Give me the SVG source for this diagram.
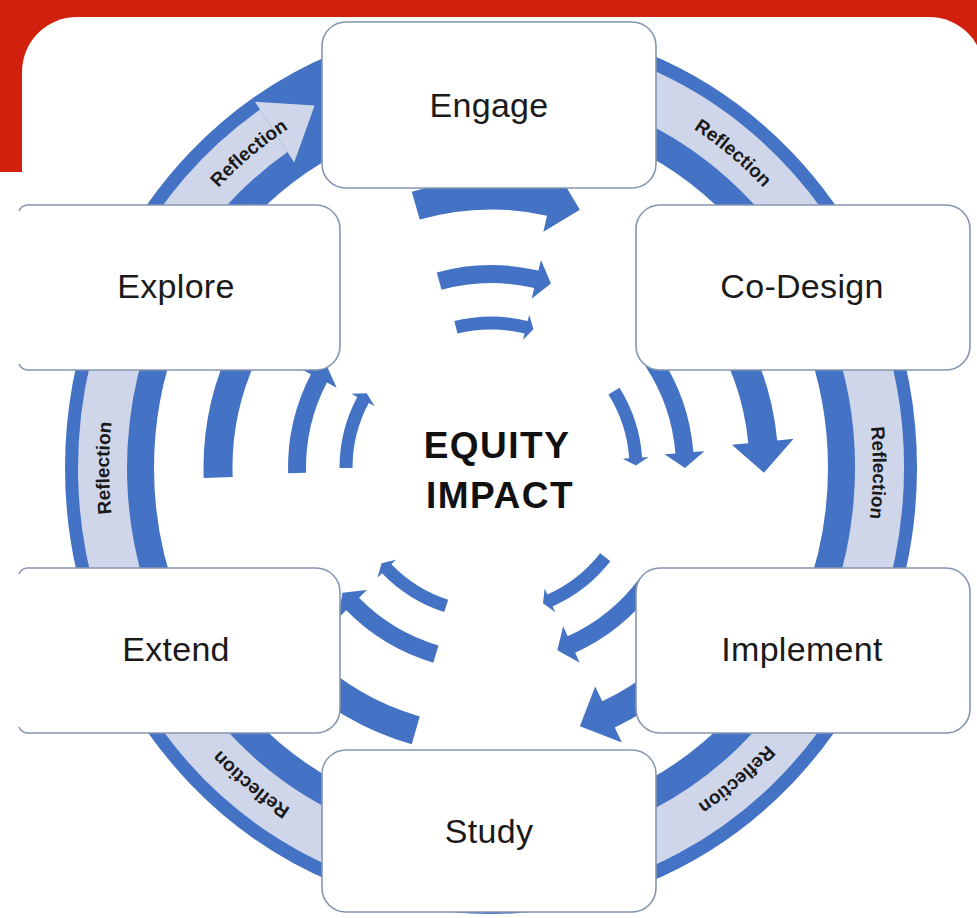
<svg xmlns="http://www.w3.org/2000/svg" width="977" height="918" viewBox="0 0 977 918">
<style>
.box{fill:#ffffff;stroke:#8595B0;stroke-width:1.6}
.boxfill{fill:#ffffff;stroke:none}
.boxline{fill:none;stroke:#8595B0;stroke-width:1.6}
.lbl{font-family:"Liberation Sans",Arial,sans-serif;font-size:34px;fill:#1a1a1a;text-anchor:middle;letter-spacing:0.3px}
.ctr{font-family:"Liberation Sans",Arial,sans-serif;font-size:37px;font-weight:bold;fill:#111111;text-anchor:middle;letter-spacing:1.5px}
.refl{font-family:"Liberation Sans",Arial,sans-serif;font-size:19px;font-weight:bold;fill:#1a1a1a}
</style>
<defs>
<path id="rp" d="M 491 68 A 382 400 0 0 1 491 868 A 382 400 0 0 1 491 68"/>
<g id="arrow-set">
<path d="M -79.25 -276.36 A 287.5 287.5 0 0 1 62.23 -280.69 L 65.80 -296.80 L 88.88 -258.13 L 52.38 -236.26 L 55.95 -252.37 A 258.5 258.5 0 0 0 -71.25 -248.49 Z"/>
<path d="M -54.25 -195.62 A 203 203 0 0 1 47.39 -197.39 L 49.96 -208.09 L 59.95 -184.51 L 40.62 -169.19 L 43.19 -179.89 A 185 185 0 0 0 -49.44 -178.27 Z"/>
<path d="M -36.65 -147.00 A 151.5 151.5 0 0 1 36.65 -147.00 L 38.22 -153.31 L 42.39 -138.66 L 31.93 -128.08 L 33.51 -134.39 A 138.5 138.5 0 0 0 -33.51 -134.39 Z"/>
</g>
</defs>
<g id="background">
<rect x="0" y="0" width="977" height="918" fill="#ffffff"/>
<rect x="0" y="0" width="977" height="172" fill="#D2200E"/>
<rect x="22" y="17" width="962" height="1000" rx="55" fill="#ffffff"/>
<rect x="0" y="172" width="40" height="746" fill="#ffffff"/>
</g>
<g id="reflection-ring">
<g transform="translate(491,468) scale(1,1.047)">
<circle r="381.5" fill="none" stroke="#4472C4" stroke-width="89"/>
<path d="M -132.88 -365.07 A 388.5 388.5 0 1 1 -217.25 -322.08" fill="none" stroke="#CFD6EA" stroke-width="49"/>
<polygon points="-235.98,-349.85 -176.38,-346.16 -196.83,-291.82" fill="#CFD6EA"/>
</g>
<text class="refl"><textPath href="#rp" startOffset="89.4%" text-anchor="middle">Reflection</textPath></text>
<text class="refl"><textPath href="#rp" startOffset="10.6%" text-anchor="middle">Reflection</textPath></text>
<text class="refl"><textPath href="#rp" startOffset="25.2%" text-anchor="middle">Reflection</textPath></text>
<text class="refl"><textPath href="#rp" startOffset="39.2%" text-anchor="middle">Reflection</textPath></text>
<text class="refl"><textPath href="#rp" startOffset="60.5%" text-anchor="middle">Reflection</textPath></text>
<text class="refl"><textPath href="#rp" startOffset="75%" text-anchor="middle">Reflection</textPath></text>
</g>
<g id="connectors" fill="#4472C4">
<use href="#arrow-set" transform="translate(491,468) rotate(0)"/>
<use href="#arrow-set" transform="translate(491,468) rotate(72)"/>
<use href="#arrow-set" transform="translate(491,468) rotate(142)"/>
<use href="#arrow-set" transform="translate(491,468) rotate(212)"/>
<use href="#arrow-set" transform="translate(491,468) rotate(284)"/>
</g>
<g id="node-engage">
<rect class="box" x="322" y="22" width="334" height="166" rx="24"/>
<text class="lbl" x="489" y="117">Engage</text>
</g>
<g id="node-codesign">
<rect class="box" x="636" y="205" width="334" height="165" rx="24"/>
<text class="lbl" x="802" y="298">Co-Design</text>
</g>
<g id="node-implement">
<rect class="box" x="636" y="568" width="334" height="165" rx="24"/>
<text class="lbl" x="802" y="661">Implement</text>
</g>
<g id="node-study">
<rect class="box" x="322" y="750" width="334" height="162" rx="24"/>
<text class="lbl" x="489" y="843">Study</text>
</g>
<g id="node-extend">
<path class="boxfill" d="M 17 578 A 10 10 0 0 1 27 568 H 316 A 24 24 0 0 1 340 592 V 709 A 24 24 0 0 1 316 733 H 27 A 10 10 0 0 1 17 723 Z"/>
<path class="boxline" d="M 19 574 A 10 10 0 0 1 27 568 H 316 A 24 24 0 0 1 340 592 V 709 A 24 24 0 0 1 316 733 H 27 A 10 10 0 0 1 19 727"/>
<text class="lbl" x="176" y="661">Extend</text>
</g>
<g id="node-explore">
<path class="boxfill" d="M 17 215 A 10 10 0 0 1 27 205 H 316 A 24 24 0 0 1 340 229 V 346 A 24 24 0 0 1 316 370 H 27 A 10 10 0 0 1 17 360 Z"/>
<path class="boxline" d="M 19 211 A 10 10 0 0 1 27 205 H 316 A 24 24 0 0 1 340 229 V 346 A 24 24 0 0 1 316 370 H 27 A 10 10 0 0 1 19 364"/>
<text class="lbl" x="176" y="298">Explore</text>
</g>
<g id="center-label">
<text class="ctr" x="497" y="458">EQUITY</text>
<text class="ctr" x="500" y="508">IMPACT</text>
</g>
</svg>
